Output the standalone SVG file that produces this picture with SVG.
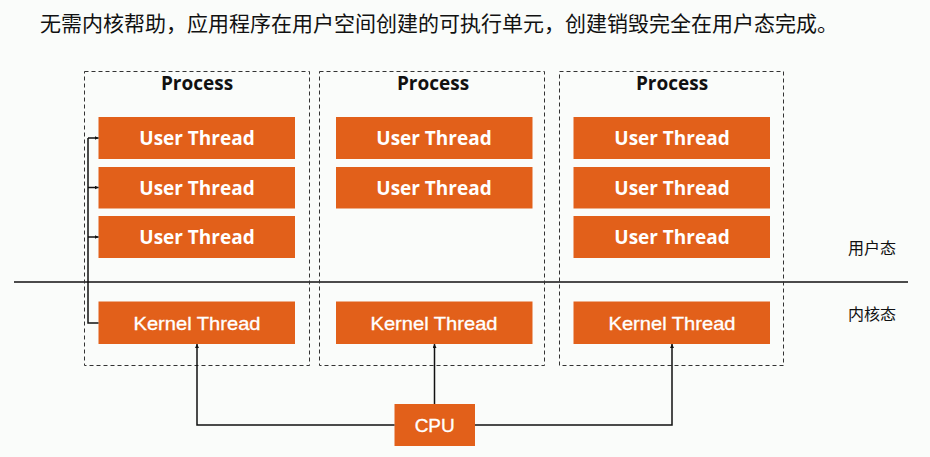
<svg xmlns="http://www.w3.org/2000/svg" width="930" height="457" viewBox="0 0 930 457">
<style>
.bg{fill:#fafcfa}
.proc{fill:none;stroke:#333;stroke-width:1;stroke-dasharray:4 3}
.ptitle{font-family:"Open Sans","Noto Sans","Liberation Sans",sans-serif;font-weight:bold;font-size:19px;fill:#111;text-anchor:middle}
.th{fill:#e2601a}
.ut{font-family:"Open Sans","Noto Sans","Liberation Sans",sans-serif;font-weight:bold;font-size:19px;fill:#fff;text-anchor:middle}
.kt{font-family:"Liberation Sans",Arial,sans-serif;font-size:19px;fill:#fff;stroke:#fff;stroke-width:0.35;text-anchor:middle}
.cn{fill:none;stroke:#111;stroke-width:1.5}
.zh{font-family:"Noto Sans CJK SC","Noto Sans",sans-serif;fill:#111}
</style>
<defs>
<marker id="ah" viewBox="0 0 6 6" refX="6" refY="3" markerWidth="4" markerHeight="4" orient="auto" markerUnits="userSpaceOnUse">
<path d="M0,0 L6,3 L0,6 z" fill="#111"/>
</marker>
</defs>
<rect class="bg" x="0" y="0" width="930" height="457"/>
<text class="zh" x="40" y="31" font-size="21" textLength="798" lengthAdjust="spacingAndGlyphs">无需内核帮助，应用程序在用户空间创建的可执行单元，创建销毁完全在用户态完成。</text>
<line x1="14" y1="282" x2="908" y2="282" stroke="#111" stroke-width="1.5"/>
<text class="zh" x="848" y="254" font-size="16">用户态</text>
<text class="zh" x="848" y="320" font-size="16">内核态</text>

<g id="process1">
<rect class="proc" x="84.5" y="71.5" width="225" height="294"/>
<text class="ptitle" x="197" y="90">Process</text>
</g>
<g id="process2">
<rect class="proc" x="319.5" y="71.5" width="225" height="294"/>
<text class="ptitle" x="433" y="90">Process</text>
</g>
<g id="process3">
<rect class="proc" x="559.5" y="71.5" width="224" height="294"/>
<text class="ptitle" x="672" y="90">Process</text>
</g>

<g id="ut1a"><rect class="th" x="98.5" y="117" width="196.5" height="42"/><text class="ut" x="197" y="145">User Thread</text></g>
<g id="ut1b"><rect class="th" x="98.5" y="167" width="196.5" height="41.5"/><text class="ut" x="197" y="194.5">User Thread</text></g>
<g id="ut1c"><rect class="th" x="98.5" y="216" width="196.5" height="42"/><text class="ut" x="197" y="244">User Thread</text></g>
<g id="kt1"><rect class="th" x="98.5" y="301.5" width="196.5" height="42.5"/><text class="kt" x="197" y="329.5" textLength="127" lengthAdjust="spacingAndGlyphs">Kernel Thread</text></g>

<g id="ut2a"><rect class="th" x="336" y="117" width="196.5" height="42"/><text class="ut" x="434" y="145">User Thread</text></g>
<g id="ut2b"><rect class="th" x="336" y="167" width="196.5" height="41.5"/><text class="ut" x="434" y="194.5">User Thread</text></g>
<g id="kt2"><rect class="th" x="336" y="301.5" width="196.5" height="42.5"/><text class="kt" x="434" y="329.5" textLength="127" lengthAdjust="spacingAndGlyphs">Kernel Thread</text></g>

<g id="ut3a"><rect class="th" x="573.5" y="117" width="196.5" height="42"/><text class="ut" x="672" y="145">User Thread</text></g>
<g id="ut3b"><rect class="th" x="573.5" y="167" width="196.5" height="41.5"/><text class="ut" x="672" y="194.5">User Thread</text></g>
<g id="ut3c"><rect class="th" x="573.5" y="216" width="196.5" height="42"/><text class="ut" x="672" y="244">User Thread</text></g>
<g id="kt3"><rect class="th" x="573.5" y="301.5" width="196.5" height="42.5"/><text class="kt" x="672" y="329.5" textLength="127" lengthAdjust="spacingAndGlyphs">Kernel Thread</text></g>

<g id="cpu"><rect class="th" x="394.5" y="404" width="80.5" height="42"/><text class="kt" x="434.7" y="432">CPU</text></g>

<g id="connectors">
<path class="cn" d="M98.5,323 H88 V138"/>
<line class="cn" x1="88" y1="138" x2="98.5" y2="138" marker-end="url(#ah)"/>
<line class="cn" x1="88" y1="187.5" x2="98.5" y2="187.5" marker-end="url(#ah)"/>
<line class="cn" x1="88" y1="237" x2="98.5" y2="237" marker-end="url(#ah)"/>
<path class="cn" d="M394.5,425 H197 V344" marker-end="url(#ah)"/>
<path class="cn" d="M434.5,404 V344" marker-end="url(#ah)"/>
<path class="cn" d="M475,425 H672 V344" marker-end="url(#ah)"/>
</g>
</svg>
